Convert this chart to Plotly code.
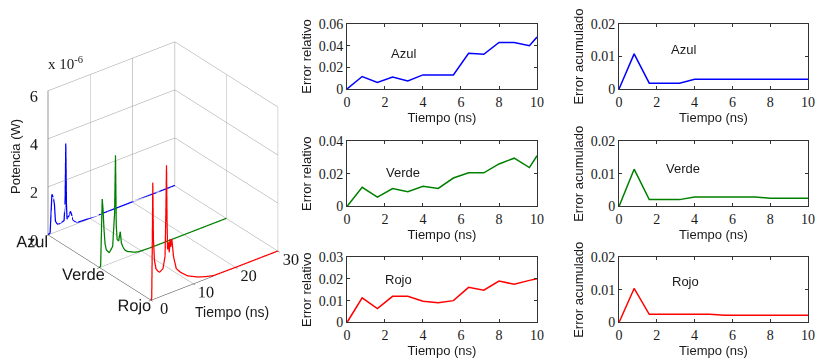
import plotly.graph_objects as go

# ---------------- data: 3D power traces (x 1e-6 W) ----------------
t_azul = [0, 0.5, 0.75, 0.92, 1.2, 1.5, 1.75, 2.2, 2.55, 3.2, 3.8, 4.05, 4.2, 4.35, 4.5, 4.9, 5.3, 5.6, 5.9, 6.5, 7.1, 9, 12, 15, 20, 25, 30]
p_azul = [0, 0.05, 1.0, 1.63, 1.5, 1.2, 0.45, 0.3, 0.28, 0.3, 0.34, 1.2, 3.52, 1.0, 0.35, 0.45, 0.62, 0.45, 0.22, 0.1, 0.05, 0.03, 0.02, 0.02, 0.02, 0.02, 0.02]

t_verde = [0, 0.25, 0.45, 0.62, 0.8, 1.04, 1.3, 1.6, 2.28, 3.1, 3.55, 3.77, 3.95, 4.15, 4.5, 4.9, 5.16, 5.6, 6.0, 6.6, 7.24, 8.2, 9.3, 12, 15, 20, 25, 30]
p_verde = [0, 0.05, 1.5, 2.81, 2.43, 1.54, 0.9, 0.63, 0.46, 0.67, 2.0, 4.42, 1.5, 0.89, 0.8, 1.16, 0.67, 0.45, 0.32, 0.22, 0.17, 0.08, 0.03, 0.01, 0.01, 0.01, 0.01, 0.01]

t_rojo = [0, 0.15, 0.3, 0.4, 0.55, 0.8, 1.16, 1.6, 2.0, 2.8, 3.3, 3.5, 3.64, 3.78, 3.9, 4.1, 4.3, 4.46, 4.65, 4.9, 5.3, 5.95, 6.95, 8.6, 11.1, 13, 14.8, 20, 25, 30]
p_rojo = [0, 0.1, 2.5, 4.87, 2.5, 1.6, 1.23, 1.1, 1.03, 1.12, 1.6, 3.5, 5.37, 3.0, 1.85, 2.13, 1.7, 2.25, 1.9, 2.22, 1.46, 0.91, 0.69, 0.43, 0.21, 0.1, 0.02, 0.01, 0.01, 0.01]

canales = ["Rojo", "Verde", "Azul"]
canal_pos = [1, 2, 3]
t_ticks3d = [0, 10, 20, 30]
p_ticks3d = [0, 2, 4, 6]

# ---------------- data: error curves ----------------
t_err = [0, 0.8, 1.6, 2.4, 3.2, 4.0, 4.8, 5.6, 6.4, 7.2, 8.0, 8.8, 9.6, 10.0]
rel_azul = [0, 0.0115, 0.006, 0.011, 0.0075, 0.013, 0.013, 0.013, 0.033, 0.032, 0.043, 0.043, 0.040, 0.048]
rel_verde = [0, 0.0117, 0.0057, 0.011, 0.009, 0.0123, 0.011, 0.0174, 0.0206, 0.0206, 0.026, 0.0295, 0.0238, 0.031]
rel_rojo = [0, 0.0113, 0.0064, 0.012, 0.012, 0.0097, 0.0091, 0.010, 0.0161, 0.0148, 0.019, 0.0175, 0.0193, 0.020]
acu_azul = [0, 0.0108, 0.0018, 0.0018, 0.0018, 0.003, 0.003, 0.003, 0.003, 0.003, 0.003, 0.003, 0.003, 0.003]
acu_verde = [0, 0.0114, 0.0021, 0.0021, 0.0021, 0.0029, 0.0029, 0.0029, 0.0029, 0.0029, 0.0025, 0.0025, 0.0025, 0.0025]
acu_rojo = [0, 0.0104, 0.0025, 0.0025, 0.0025, 0.0025, 0.0025, 0.0022, 0.0022, 0.0022, 0.0022, 0.0022, 0.0022, 0.0022]

x_ticks = [0, 2, 4, 6, 8, 10]
rel_azul_ticks = [0, 0.02, 0.04, 0.06]
rel_verde_ticks = [0, 0.02, 0.04]
rel_rojo_ticks = [0, 0.01, 0.02, 0.03]
acu_ticks = [0, 0.01, 0.02]

COL = {"Azul": "#0000ff", "Verde": "#008000", "Rojo": "#ff0000"}
SANS = "Liberation Sans, Arial, sans-serif"
SERIF = "Liberation Serif, Times New Roman, serif"
TXT = "#1a1a1a"

fig = go.Figure()

# ---------------- 3D scene ----------------
for name, t, p in [("Azul", t_azul, p_azul), ("Verde", t_verde, p_verde), ("Rojo", t_rojo, p_rojo)]:
    yv = canal_pos[canales.index(name)]
    fig.add_trace(go.Scatter3d(x=t, y=[yv] * len(t), z=p, mode="lines",
                               line=dict(color=COL[name], width=2.5), showlegend=False,
                               scene="scene"))

ax3 = dict(showbackground=False, showgrid=True, gridcolor="#9a9a9a", gridwidth=1,
           showline=True, linecolor="#333", linewidth=1, zeroline=False,
           ticks="outside", ticklen=3, tickcolor="#333", tickangle=0,
           tickfont=dict(family=SERIF, size=14, color=TXT), title=dict(text=""),
           showspikes=False)
fig.update_layout(scene=dict(
    domain=dict(x=[0.006, 0.393], y=[0.071, 0.971]),
    xaxis=dict(ax3, range=[0, 30], tickvals=t_ticks3d, ticktext=[str(v) for v in t_ticks3d]),
    yaxis=dict(ax3, range=[1, 3], tickvals=canal_pos, ticktext=canales,
               tickfont=dict(family=SANS, size=14, color=TXT)),
    zaxis=dict(ax3, range=[0, 6], tickvals=p_ticks3d, ticktext=[str(v) for v in p_ticks3d],
               ticks="", ticklen=0),
    aspectmode="manual", aspectratio=dict(x=1, y=1.04, z=1.03),
    camera=dict(eye=dict(x=-1.07, y=-1.37, z=0.99), up=dict(x=0, y=0, z=1),
                center=dict(x=0, y=0, z=0), projection=dict(type="orthographic")),
))

# ---------------- 2D subplots ----------------
colx = [[0.4252, 0.6581], [0.7586, 0.9902]]
rowy = [[0.7514, 0.9330], [0.4232, 0.6061], [0.0992, 0.2821]]
panels = [
    (0, 0, rel_azul, "Azul", rel_azul_ticks, ["0", "0.02", "0.04", "0.06"], "Error relativo", (2.96, 0.033)),
    (0, 1, rel_verde, "Verde", rel_verde_ticks, ["0", "0.02", "0.04"], "Error relativo", (2.96, 0.021)),
    (0, 2, rel_rojo, "Rojo", rel_rojo_ticks, ["0", "0.01", "0.02", "0.03"], "Error relativo", (2.7, 0.0195)),
    (1, 0, acu_azul, "Azul", acu_ticks, ["0", "0.01", "0.02"], "Error acumulado", (3.39, 0.012)),
    (1, 1, acu_verde, "Verde", acu_ticks, ["0", "0.01", "0.02"], "Error acumulado", (3.39, 0.0116)),
    (1, 2, acu_rojo, "Rojo", acu_ticks, ["0", "0.01", "0.02"], "Error acumulado", (3.5, 0.0126)),
]
annotations = []
for i, (c, r, vals, name, yt, ytt, ytitle, lab) in enumerate(panels):
    k = "" if i == 0 else str(i + 1)
    fig.add_trace(go.Scatter(x=t_err, y=vals, mode="lines", line=dict(color=COL[name], width=1.5),
                             showlegend=False, xaxis="x" + k, yaxis="y" + k))
    common = dict(showline=True, linecolor="#333", linewidth=1, mirror="ticks", ticks="inside",
                  ticklen=3, tickcolor="#333", showgrid=False, zeroline=False,
                  tickfont=dict(family=SERIF, size=14, color=TXT), automargin=False)
    fig.update_layout(**{
        "xaxis" + k: dict(common, domain=colx[c], anchor="y" + k, range=[0, 10], tickvals=x_ticks,
                          ticktext=[str(v) for v in x_ticks],
                          title=dict(text="Tiempo (ns)", font=dict(family=SANS, size=13, color=TXT), standoff=2)),
        "yaxis" + k: dict(common, domain=rowy[r], anchor="x" + k, range=[yt[0], yt[-1]], tickvals=yt,
                          ticktext=ytt,
                          title=dict(text=ytitle, font=dict(family=SANS, size=13, color=TXT), standoff=4)),
    })
    annotations.append(dict(x=lab[0], y=lab[1], xref="x" + k, yref="y" + k, text=name, showarrow=False,
                            xanchor="center", yanchor="middle",
                            font=dict(family=SANS, size=13, color=TXT)))

annotations += [
    dict(x=15 / 816, y=1 - 157 / 358, xref="paper", yref="paper", text="Potencia (W)", textangle=-90,
         xanchor="center", yanchor="middle", showarrow=False, font=dict(family=SANS, size=13, color=TXT)),
    dict(x=65 / 816, y=1 - 63 / 358, xref="paper", yref="paper", text="x 10<sup>-6</sup>",
         xanchor="center", yanchor="middle", showarrow=False, font=dict(family=SERIF, size=15, color=TXT)),
    dict(x=232 / 816, y=1 - 312 / 358, xref="paper", yref="paper", text="Tiempo (ns)",
         xanchor="center", yanchor="middle", showarrow=False, font=dict(family=SANS, size=14, color=TXT)),
]

fig.update_layout(width=816, height=358, margin=dict(l=0, r=0, t=0, b=0),
                  paper_bgcolor="white", plot_bgcolor="white", template="none",
                  annotations=annotations, showlegend=False)
fig.write_html("out.html")
